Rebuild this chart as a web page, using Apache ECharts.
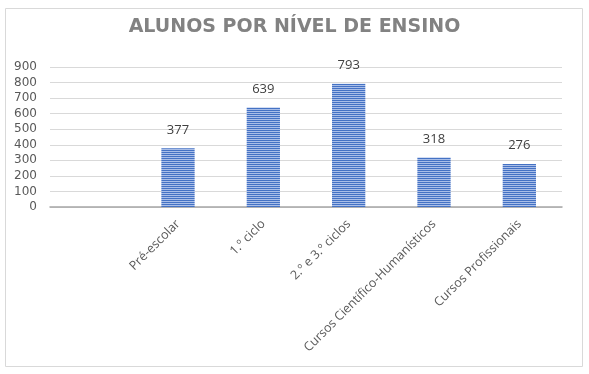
<!DOCTYPE html>
<html><head><meta charset="utf-8">
<script src="https://cdn.jsdelivr.net/npm/echarts@6/dist/echarts.min.js"></script>
<style>html,body{margin:0;padding:0;background:#fff}#c{width:589px;height:374px}</style>
</head><body><div id="c"></div>
<script>
const titleText = 'ALUNOS POR NÍVEL DE ENSINO';
const categories = ['', 'Pré-escolar', '1.º ciclo', '2.º e 3.º ciclos', 'Cursos Científico-Humanísticos', 'Cursos Profissionais'];
const values = ['-', 377, 639, 793, 318, 276];
const yTicks = [0, 100, 200, 300, 400, 500, 600, 700, 800, 900];

const pc = document.createElement('canvas');
pc.width = 4; pc.height = 2;
const g = pc.getContext('2d');
g.fillStyle = '#4472C4'; g.fillRect(0, 0, 4, 1);
g.fillStyle = '#A9BEE8'; g.fillRect(0, 1, 4, 1);

const chart = echarts.init(document.getElementById('c'), null, {renderer: 'canvas'});
chart.setOption({
  animation: false,
  title: {
    text: titleText, left: 'center', top: 13,
    textStyle: {fontFamily: 'DejaVu Sans', fontWeight: 'bold', fontSize: 19, color: '#828282'}
  },
  graphic: [{
    type: 'rect', shape: {x: 5.5, y: 8.5, width: 577, height: 358},
    style: {fill: 'none', stroke: '#D9D9D9', lineWidth: 1}, silent: true
  }],
  grid: {left: 50, right: 27, top: 67, bottom: 167},
  xAxis: {
    type: 'category', data: categories,
    axisLine: {lineStyle: {color: '#A6A6A6', width: 1.5}},
    axisTick: {show: false},
    axisLabel: {rotate: 45, interval: 0, color: '#595959', fontFamily: 'Open Sans', fontSize: 12.5, margin: 15}
  },
  yAxis: {
    type: 'value', min: yTicks[0], max: yTicks[yTicks.length - 1], interval: 100,
    axisLine: {show: false}, axisTick: {show: false},
    axisLabel: {color: '#595959', fontFamily: 'DejaVu Sans', fontSize: 12, margin: 13},
    splitLine: {lineStyle: {color: '#D9D9D9', width: 1}}
  },
  series: [{
    type: 'bar', data: values, barWidth: '39%',
    itemStyle: {color: {image: pc, repeat: 'repeat'}},
    label: {show: true, position: 'top', distance: 12, color: '#404040', fontFamily: 'Open Sans', fontSize: 13}
  }]
});
</script></body></html>
